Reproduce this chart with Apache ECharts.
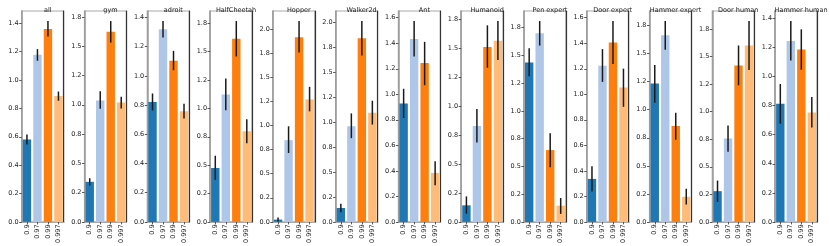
<!DOCTYPE html>
<html>
<head>
<meta charset="utf-8">
<script src="https://cdn.jsdelivr.net/npm/echarts@6/dist/echarts.min.js"></script>
<style>html,body{margin:0;padding:0;background:#fff}#c{width:830px;height:246px}</style>
</head>
<body>
<div id="c"></div>
<script>
const panels = ["all","gym","adroit","HalfCheetah","Hopper","Walker2d","Ant","Humanoid","Pen expert","Door expert","Hammer expert","Door human","Hammer human"];
const gammas = ["0.9","0.97","0.99","0.997"];
const barColors = ["#1f77b4","#aec7e8","#ff7f0e","#ffbb78"];

const meanAll = [0.581,1.178,1.360,0.887];
const meanGym = [0.342,1.037,1.624,1.020];
const meanAdroit = [0.820,1.318,1.103,0.757];
const meanHalfCheetah = [0.475,1.123,1.613,0.799];
const meanHopper = [0.024,0.847,1.914,1.269];
const meanWalker = [0.139,0.957,1.838,1.093];
const meanAnt = [0.928,1.434,1.245,0.384];
const meanHumanoid = [0.143,0.828,1.510,1.564];
const meanPenExpert = [1.437,1.699,0.647,0.146];
const meanDoorExpert = [0.337,1.224,1.406,1.053];
const meanHammerExpert = [1.233,1.664,0.856,0.224];
const meanDoorHuman = [0.279,0.757,1.420,1.601];
const meanHammerHuman = [0.813,1.245,1.186,0.753];

const lowAll = [0.546,1.136,1.307,0.854];
const lowGym = [0.311,0.966,1.531,0.969];
const lowAdroit = [0.763,1.262,1.038,0.707];
const lowHalfCheetah = [0.370,0.983,1.458,0.694];
const lowHopper = [0.003,0.714,1.756,1.146];
const lowWalker = [0.096,0.838,1.666,0.974];
const lowAnt = [0.814,1.297,1.071,0.288];
const lowHumanoid = [0.071,0.685,1.330,1.396];
const lowPenExpert = [1.312,1.589,0.492,0.072];
const lowDoorExpert = [0.239,1.097,1.237,0.902];
const lowHammerExpert = [1.062,1.534,0.732,0.156];
const lowDoorHuman = [0.180,0.637,1.240,1.378];
const lowHammerHuman = [0.676,1.111,1.047,0.649];

const highAll = [0.616,1.218,1.416,0.919];
const highGym = [0.373,1.116,1.715,1.068];
const highAdroit = [0.879,1.375,1.171,0.809];
const highHalfCheetah = [0.583,1.263,1.770,0.904];
const highHopper = [0.045,0.991,2.082,1.400];
const highWalker = [0.182,1.086,2.010,1.212];
const highAnt = [1.043,1.574,1.411,0.475];
const highHumanoid = [0.220,0.973,1.696,1.733];
const highPenExpert = [1.565,1.810,0.799,0.215];
const highDoorExpert = [0.436,1.354,1.574,1.201];
const highHammerExpert = [1.399,1.791,0.974,0.295];
const highDoorHuman = [0.375,0.874,1.601,1.823];
const highHammerHuman = [0.949,1.382,1.325,0.860];

const means = [meanAll,meanGym,meanAdroit,meanHalfCheetah,meanHopper,meanWalker,meanAnt,meanHumanoid,meanPenExpert,meanDoorExpert,meanHammerExpert,meanDoorHuman,meanHammerHuman];
const lows = [lowAll,lowGym,lowAdroit,lowHalfCheetah,lowHopper,lowWalker,lowAnt,lowHumanoid,lowPenExpert,lowDoorExpert,lowHammerExpert,lowDoorHuman,lowHammerHuman];
const highs = [highAll,highGym,highAdroit,highHalfCheetah,highHopper,highWalker,highAnt,highHumanoid,highPenExpert,highDoorExpert,highHammerExpert,highDoorHuman,highHammerHuman];

// tick sets
const quarterTicks = [0,0.25,0.5,0.75,1.0,1.25,1.5,1.75,2.0];
const quarterLabels = ["0.0","0.2","0.5","0.8","1.0","1.2","1.5","1.8","2.0"];
const fifthTicks = [0,0.2,0.4,0.6,0.8,1.0,1.2,1.4,1.6];
const fifthLabels = ["0.0","0.2","0.4","0.6","0.8","1.0","1.2","1.4","1.6"];
const tickSetOfPanel = ["fifth","quarter","fifth","quarter","quarter","quarter","fifth","quarter","quarter","fifth","quarter","quarter","fifth"];

const chart = echarts.init(document.getElementById('c'), null, {renderer:'canvas'});
const FONT = 'DejaVu Sans';
const FS = 6.5;
const grids = [], xAxes = [], yAxes = [], series = [], titles = [];
const left0 = 21.7, step = 62.78, W = 42, TOP = 11, H = 212;

panels.forEach((name, i) => {
  const left = left0 + i * step;
  const yMax = Math.max(...highs[i]) * 1.05;
  const ticks = tickSetOfPanel[i] === 'quarter' ? quarterTicks : fifthTicks;
  const labels = tickSetOfPanel[i] === 'quarter' ? quarterLabels : fifthLabels;
  const used = ticks.filter(t => t <= yMax + 1e-9);
  grids.push({left: left, top: TOP, width: W, height: H, show: true, borderColor: '#aaaaaa', borderWidth: 1.2, backgroundColor: '#fff', containLabel: false});
  titles.push({text: name, left: left + W / 2, top: 2, textAlign: 'center',
    textStyle: {fontFamily: FONT, fontSize: FS, fontWeight: 'normal', color: '#222'}});
  xAxes.push({type: 'category', gridIndex: i, data: gammas, position: 'bottom',
    axisLine: {show: true, lineStyle: {color: '#333', width: 1.2}},
    axisTick: {show: true, alignWithLabel: true, length: 2.5, lineStyle: {color: '#333', width: 0.8}},
    axisLabel: {rotate: 90, fontFamily: FONT, fontSize: FS, color: '#222', margin: 2.5, interval: 0}});
  xAxes.push({type: 'category', gridIndex: i, data: gammas, position: 'top',
    axisLine: {show: true, lineStyle: {color: '#aaaaaa', width: 1.2}},
    axisTick: {show: false}, axisLabel: {show: false}});
  yAxes.push({type: 'value', gridIndex: i, min: 0, max: yMax, position: 'left',
    axisLine: {show: true, lineStyle: {color: '#999', width: 1.5}},
    axisTick: {show: true, length: 2.5, customValues: used, lineStyle: {color: '#333', width: 0.8}},
    axisLabel: {show: true, customValues: used, fontFamily: FONT, fontSize: FS, color: '#222', margin: 3,
      formatter: v => { const k = ticks.findIndex(t => Math.abs(t - v) < 1e-6); return k >= 0 ? labels[k] : ''; }},
    splitLine: {show: false}});
  yAxes.push({type: 'value', gridIndex: i, min: 0, max: yMax, position: 'right',
    axisLine: {show: true, lineStyle: {color: '#333', width: 1.2}},
    axisTick: {show: false}, axisLabel: {show: false}, splitLine: {show: false}});
  series.push({type: 'bar', xAxisIndex: i * 2, yAxisIndex: i * 2, barWidth: '80%',
    data: means[i].map((v, j) => ({value: v, itemStyle: {color: barColors[j]}})),
    silent: true, animation: false});
  series.push({type: 'custom', xAxisIndex: i * 2, yAxisIndex: i * 2, z: 5, silent: true, animation: false,
    encode: {x: 0, y: [1, 2]},
    data: lows[i].map((lo, j) => [j, lo, highs[i][j]]),
    renderItem: (params, api) => {
      const p1 = api.coord([api.value(0), api.value(1)]);
      const p2 = api.coord([api.value(0), api.value(2)]);
      return {type: 'line', shape: {x1: p1[0], y1: p1[1], x2: p2[0], y2: p2[1]},
        style: {stroke: '#1a1a1a', lineWidth: 1.5}};
    }});
});

chart.setOption({animation: false, backgroundColor: '#fff', title: titles, grid: grids, xAxis: xAxes, yAxis: yAxes, series: series});
</script>
</body>
</html>
